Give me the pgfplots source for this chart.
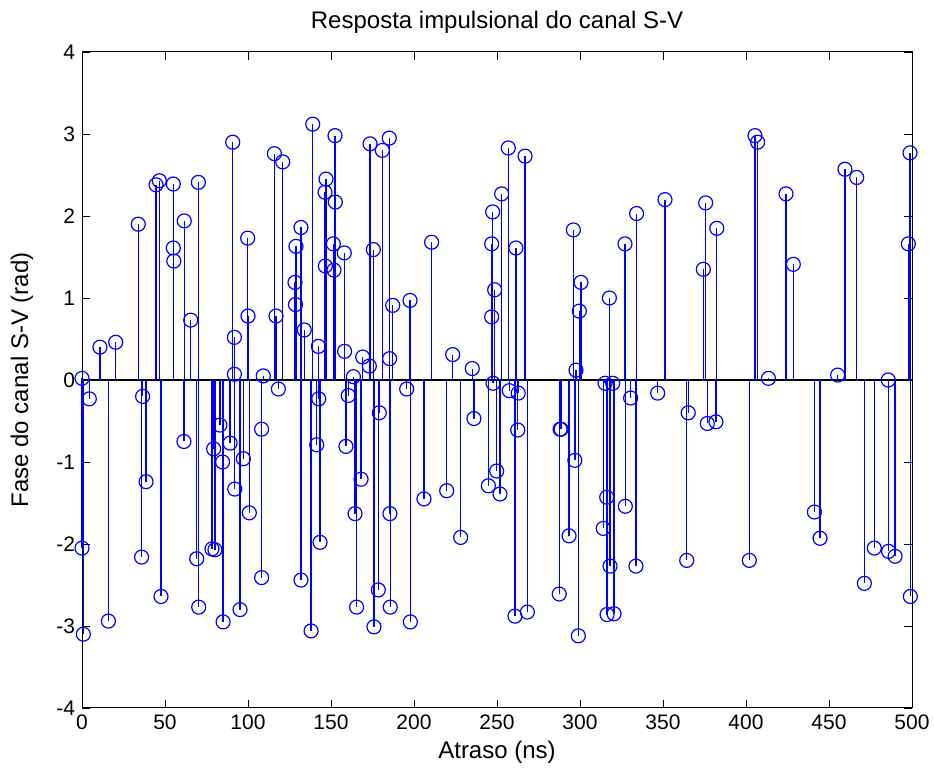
\documentclass[border=0pt]{standalone}
\usepackage{pgfplots}
\pgfplotsset{compat=1.18}
\usepackage{fontspec}
\setmainfont{Liberation Sans}
\definecolor{mblue}{RGB}{0,0,255}
\begin{document}
\begin{tikzpicture}
\begin{axis}[
  scale only axis, width=415pt, height=328pt,
  xmin=0, xmax=500, ymin=-4, ymax=4,
  xtick={0,50,...,500}, ytick={-4,-3,...,4},
  /pgf/number format/assume math mode=true,
  tick label style={font=\fontsize{10.5}{12}\selectfont},
  every axis label/.append style={font=\fontsize{12}{14}\selectfont},
  every axis title shift=0pt,
  title style={font=\fontsize{12}{14}\selectfont, at={(axis description cs:0.5,1.0457)}, anchor=center},
  xlabel style={at={(axis description cs:0.5,-0.067)}, anchor=center},
  ylabel style={at={(axis description cs:-0.0723,0.5)}, anchor=center},
  major tick length=4pt,
  tick style={black, line width=0.4pt},
  axis line style={black, line width=0.5pt},
  clip=false,
  title={Resposta impulsional do canal S-V},
  xlabel={Atraso (ns)},
  ylabel={Fase do canal S-V (rad)},
]
\addplot[black, line width=0.6pt, forget plot] coordinates {(0,0) (500,0)};
\addplot[ycomb, draw=mblue, color=mblue, line width=0.65pt, mark=o, mark size=3.5pt, mark options={draw=mblue, line width=0.6pt, fill=none}] coordinates {
(0,0.02) (0,-2.05) (0.8,-3.10) (4.4,-0.23) (10.8,0.40) (15.9,-2.94) (20.3,0.46)
(33.9,1.90) (35.9,-2.16) (36.5,-0.20) (38.6,-1.24) (44.6,2.38) (46.6,2.43) (47.6,-2.64)
(55,2.39) (55,1.61) (55.3,1.45) (61.4,-0.75) (61.6,1.94) (65.5,0.73) (69.1,-2.18)
(70.1,2.41) (70.3,-2.77) (78.3,-2.06) (79.3,-0.84) (80.1,-2.07) (83.1,-0.55) (84.7,-1.0)
(85,-2.95) (89.2,-0.77) (90.8,2.90) (91.8,0.52) (91.8,0.07) (92,-1.33) (95.2,-2.80)
(97.2,-0.96) (99.8,1.73) (100,0.78) (100.8,-1.62) (108.2,-0.60) (108.2,-2.41) (109.2,0.05)
(115.9,2.76) (116.9,0.78) (118.3,-0.11) (120.9,2.66) (128.3,1.19) (128.6,0.92) (128.9,1.63)
(131.9,1.86) (131.9,-2.44) (133.9,0.61) (138,-3.06) (139,3.12) (141.4,-0.79) (142.4,0.41)
(142.6,-0.23) (143.4,-1.98) (146.4,2.29) (146.6,1.39) (147,2.45) (151.4,1.66) (151.8,1.34)
(152.4,2.98) (152.6,2.17) (158,1.55) (158.2,0.35) (159,-0.81) (160.4,-0.19) (163.5,0.04)
(164.5,-1.63) (165.4,-2.77) (168.1,-1.21) (169.1,0.28) (173.1,0.17) (173.5,2.88) (175.5,1.59)
(175.9,-3.01) (178.5,-2.56) (179.1,-0.40) (180.9,2.80) (185.1,2.95) (185.3,0.26) (185.5,-1.63)
(185.7,-2.77) (187.2,0.91) (195.6,-0.11) (197.6,0.97) (197.8,-2.95) (206,-1.45) (210.6,1.68)
(219.7,-1.35) (223.3,0.31) (228.1,-1.92) (235.1,0.14) (236.1,-0.47) (244.8,-1.29) (246.8,1.66)
(246.8,0.77) (247.4,2.05) (247.6,-0.04) (248.6,1.10) (249.8,-1.11) (251.8,-1.39) (252.8,2.27)
(256.8,2.83) (257.4,-0.13) (260.8,-2.88) (261.4,1.61) (262.5,-0.61) (262.8,-0.16) (266.9,2.73)
(268.3,-2.83) (287.5,-2.61) (288,-0.60) (288.6,-0.60) (293.4,-1.90) (296,1.83) (296.9,-0.98)
(297.6,0.12) (299,-3.12) (299.6,0.84) (300.6,1.19) (314,-1.81) (315.1,-0.04) (316.1,-1.43)
(316.3,-2.86) (317.7,1.00) (318.1,-2.27) (319.7,-0.04) (320.5,-2.85) (327.1,1.66) (327.3,-1.54)
(330.5,-0.22) (334.1,2.03) (333.7,-2.27) (346.8,-0.16) (351.2,2.20) (364.3,-2.20) (365.2,-0.40)
(374.3,1.35) (375.7,2.16) (376.7,-0.53) (381.9,-0.51) (382.4,1.85) (402,-2.20) (405.4,2.98)
(407,2.90) (413.5,0.02) (424.1,2.27) (428.5,1.41) (441.2,-1.61) (444.6,-1.93) (455.2,0.06)
(459.6,2.57) (466.7,2.47) (471.3,-2.48) (477.3,-2.05) (485.7,0.0) (485.9,-2.09) (489.8,-2.15)
(497.8,1.66) (498.8,2.77) (499,-2.64)
};
\coordinate (ll) at (rel axis cs:0,0);
\coordinate (ur) at (rel axis cs:1,1);
\end{axis}
\pgfresetboundingbox
\path[use as bounding box] ([shift={(-41pt,-35pt)}]ll) rectangle ([shift={(11.5pt,26pt)}]ur);
\end{tikzpicture}
\end{document}
